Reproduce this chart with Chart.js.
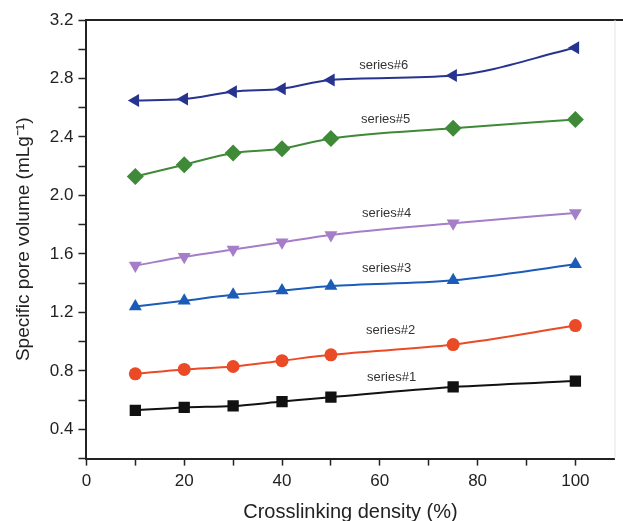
<!DOCTYPE html>
<html>
<head>
<meta charset="utf-8">
<script src="https://cdn.jsdelivr.net/npm/chart.js@4.4.1/dist/chart.umd.min.js"></script>
<style>
    html, body { margin: 0; padding: 0; background: #fff; overflow: hidden; }
    #chart { display: block; }
</style>
</head>
<body>
<canvas id="chart" width="623" height="521"></canvas>
<script>
// crosslinking density (%)
const density = [10, 20, 30, 40, 50, 75, 100];

const series1 = [0.53, 0.55, 0.56, 0.59, 0.62, 0.69, 0.73];
const series2 = [0.78, 0.81, 0.83, 0.87, 0.91, 0.98, 1.11];
const series3 = [1.24, 1.28, 1.32, 1.35, 1.38, 1.42, 1.53];
const series4 = [1.52, 1.58, 1.63, 1.68, 1.73, 1.81, 1.88];
const series5 = [2.13, 2.21, 2.29, 2.32, 2.39, 2.46, 2.52];
const series6 = [2.65, 2.66, 2.71, 2.73, 2.79, 2.82, 3.01];

const seriesNames = ['series#1', 'series#2', 'series#3', 'series#4', 'series#5', 'series#6'];
const seriesColors = ['#111111', '#eb4a26', '#1b5cb8', '#a67dc9', '#3f8a38', '#27348f'];
const seriesMarkers = ['rect', 'circle', 'triangle', 'triangle', 'rectRot', 'triangle'];
const markerRotation = [0, 0, 0, 180, 0, -90];
const markerSize = [8, 6.5, 7.5, 7.5, 8.5, 7.5];

// where the in-plot labels sit (x, y in data units)
const labelX = [62.4, 62.2, 61.4, 61.4, 61.2, 60.8];
const labelY = [0.755, 1.076, 1.50, 1.88, 2.52, 2.89];

const allSeries = [series1, series2, series3, series4, series5, series6];

const datasets = allSeries.map((values, i) => ({
    label: seriesNames[i],
    data: values.map((v, j) => ({ x: density[j], y: v })),
    borderColor: seriesColors[i],
    backgroundColor: seriesColors[i],
    borderWidth: 2,
    pointStyle: seriesMarkers[i],
    rotation: markerRotation[i],
    pointRadius: markerSize[i],
    pointBorderWidth: 0,
    cubicInterpolationMode: 'monotone'
}));

const frame = {
    id: 'frame',
    afterDraw(chart) {
        const { ctx, chartArea } = chart;
        ctx.save();
        ctx.strokeStyle = '#222';
        ctx.lineWidth = 2;
        ctx.beginPath();
        ctx.moveTo(chartArea.left, chartArea.top);
        ctx.lineTo(chart.width, chartArea.top);
        ctx.stroke();
        ctx.strokeStyle = '#e4e4e4';
        ctx.lineWidth = 1;
        ctx.beginPath();
        ctx.moveTo(chartArea.right + 0.5, chartArea.top);
        ctx.lineTo(chartArea.right + 0.5, chartArea.bottom);
        ctx.stroke();

        const xs = chart.scales.x;
        const ys = chart.scales.y;
        ctx.fillStyle = '#333';
        ctx.font = '13px "Liberation Sans", Arial, sans-serif';
        ctx.textAlign = 'center';
        ctx.textBaseline = 'middle';
        seriesNames.forEach((name, i) => {
            ctx.fillText(name, xs.getPixelForValue(labelX[i]), ys.getPixelForValue(labelY[i]));
        });
        ctx.restore();
    }
};

const axisGrid = {
    display: true,
    drawOnChartArea: false,
    drawTicks: true,
    tickLength: 7,
    tickColor: '#222',
    tickWidth: 1.5
};

new Chart(document.getElementById('chart'), {
    type: 'line',
    data: { datasets },
    plugins: [frame],
    options: {
        responsive: false,
        animation: false,
        layout: { padding: { top: 20, right: 3, left: 12, bottom: -3 } },
        plugins: {
            legend: { display: false },
            tooltip: { enabled: false }
        },
        scales: {
            x: {
                type: 'linear',
                min: 0,
                max: 108,
                border: { color: '#222', width: 2 },
                grid: axisGrid,
                ticks: {
                    stepSize: 10,
                    includeBounds: false,
                    color: '#222',
                    padding: 6,
                    font: { family: '"Liberation Sans", Arial, sans-serif', size: 17 },
                    callback: (v) => (v % 20 === 0 ? v : '')
                },
                title: {
                    display: true,
                    text: 'Crosslinking density (%)',
                    color: '#222',
                    padding: { top: 2, bottom: 0 },
                    font: { family: '"Liberation Sans", Arial, sans-serif', size: 20 }
                }
            },
            y: {
                type: 'linear',
                min: 0.2,
                max: 3.2,
                border: { color: '#222', width: 2 },
                grid: { ...axisGrid, tickLength: 8 },
                ticks: {
                    stepSize: 0.2,
                    color: '#222',
                    padding: 5,
                    font: { family: '"Liberation Sans", Arial, sans-serif', size: 17 },
                    callback: (v, i) => (i % 2 === 1 ? v.toFixed(1) : '')
                },
                title: {
                    display: true,
                    text: 'Specific pore volume (mLg⁻¹)',
                    color: '#222',
                    padding: { top: 0, bottom: 10 },
                    font: { family: '"Liberation Sans", Arial, sans-serif', size: 19 }
                }
            }
        }
    }
});
</script>
</body>
</html>
